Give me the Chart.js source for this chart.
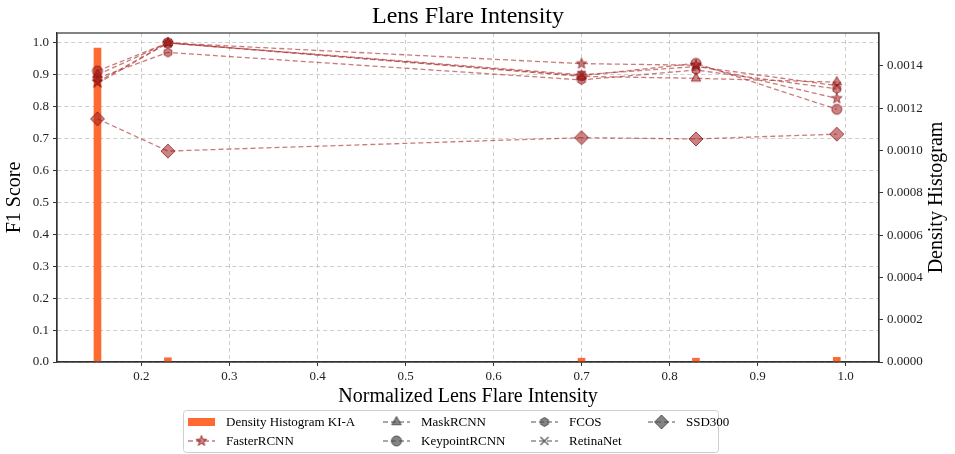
<!DOCTYPE html>
<html>
<head>
<meta charset="utf-8">
<script src="https://cdn.jsdelivr.net/npm/chart.js@4/dist/chart.umd.min.js"></script>
<style>
  html, body { margin: 0; padding: 0; background: #fff; }
  #wrap { width: 955px; height: 454px; }
</style>
</head>
<body>
<div id="wrap"><canvas id="chart" width="955" height="454"></canvas></div>
<script>
// data
const xVals = [0.15, 0.23, 0.70, 0.83, 0.99];
const histDensity = [0.001485, 0.00002, 0.000018, 0.000018, 0.000022];
const fasterRCNN = [0.878, 1.0, 0.935, 0.930, 0.826];
const maskRCNN = [0.900, 1.0, 0.895, 0.889, 0.877];
const keypointRCNN = [0.912, 1.0, 0.897, 0.936, 0.792];
const fcos = [0.890, 0.970, 0.884, 0.915, 0.856];
const retinaNet = [0.873, 1.0, 0.900, 0.926, 0.866];
const ssd300 = [0.762, 0.661, 0.703, 0.699, 0.714];
const xTicks = [0.2, 0.3, 0.4, 0.5, 0.6, 0.7, 0.8, 0.9, 1.0];

const FONT = "'Liberation Serif', 'DejaVu Serif', serif";
const lineColor = "rgba(175, 50, 50, 0.65)";
const redFill = "rgba(160, 30, 30, 0.55)";
const redEdge = "rgba(140, 20, 20, 0.75)";
const grayFill = "rgba(80, 80, 80, 0.7)";
const grayEdge = "rgba(60, 60, 60, 0.8)";
const barColor = "#ff6a33";

function markerImg(shape, size, fill, edge) {
    const c = document.createElement("canvas");
    c.width = c.height = 18;
    const g = c.getContext("2d");
    g.translate(9, 9);
    g.fillStyle = fill;
    g.strokeStyle = edge;
    g.lineWidth = 1;
    g.beginPath();
    if (shape === "circle") {
        g.arc(0, 0, size, 0, Math.PI * 2);
    } else if (shape === "x") {
        g.moveTo(-size, -size); g.lineTo(size, size);
        g.moveTo(size, -size); g.lineTo(-size, size);
        g.lineWidth = 1.4;
        g.stroke();
        return c;
    } else {
        let pts = [];
        if (shape === "star") {
            for (let i = 0; i < 10; i++) {
                const r = i % 2 ? size * 0.42 : size;
                const a = -Math.PI / 2 + i * Math.PI / 5;
                pts.push([r * Math.cos(a), r * Math.sin(a)]);
            }
        } else {
            const n = { triangle: 3, hexagon: 6, diamond: 4 }[shape];
            for (let i = 0; i < n; i++) {
                const a = -Math.PI / 2 + i * 2 * Math.PI / n;
                pts.push([size * Math.cos(a), size * Math.sin(a)]);
            }
        }
        pts.forEach((p, i) => i ? g.lineTo(p[0], p[1]) : g.moveTo(p[0], p[1]));
        g.closePath();
    }
    g.fill();
    g.stroke();
    return c;
}

const seriesDefs = [
    { label: "FasterRCNN", data: fasterRCNN, shape: "star", size: 5.5 },
    { label: "MaskRCNN", data: maskRCNN, shape: "triangle", size: 5.5 },
    { label: "KeypointRCNN", data: keypointRCNN, shape: "circle", size: 5 },
    { label: "FCOS", data: fcos, shape: "hexagon", size: 4.5 },
    { label: "RetinaNet", data: retinaNet, shape: "x", size: 4 },
    { label: "SSD300", data: ssd300, shape: "diamond", size: 7 }
];

const lineSets = seriesDefs.map(s => ({
    type: "line",
    label: s.label,
    data: xVals.map((x, i) => ({ x: x, y: s.data[i] })),
    yAxisID: "y",
    borderColor: lineColor,
    borderWidth: 1.3,
    borderDash: [5, 3],
    pointStyle: markerImg(s.shape, s.size, redFill, redEdge),
    pointRadius: 5,
    fill: false,
    tension: 0,
    order: 1
}));

// legend handles: first column style per reference
const legendItems = [
    { label: "Density Histogram KI-A", kind: "bar", col: 0, row: 0 },
    { label: "FasterRCNN", kind: "star", size: 5.5, red: true, col: 0, row: 1 },
    { label: "MaskRCNN", kind: "triangle", size: 5.5, col: 1, row: 0 },
    { label: "KeypointRCNN", kind: "circle", size: 5, col: 1, row: 1 },
    { label: "FCOS", kind: "hexagon", size: 4.5, col: 2, row: 0 },
    { label: "RetinaNet", kind: "x", size: 4, col: 2, row: 1 },
    { label: "SSD300", kind: "diamond", size: 7, col: 3, row: 0 }
];
const legendColX = [188, 383, 531, 648];

const decor = {
    id: "decor",
    afterDraw(chart) {
        const { ctx, chartArea: a } = chart;
        ctx.save();
        // frame
        ctx.strokeStyle = "#333";
        ctx.lineWidth = 1.2;
        ctx.strokeRect(a.left, a.top, a.right - a.left, a.bottom - a.top);

        ctx.fillStyle = "#000";
        ctx.textAlign = "center";
        ctx.textBaseline = "middle";
        ctx.font = "24px " + FONT;
        ctx.fillText("Lens Flare Intensity", (a.left + a.right) / 2, 17);
        ctx.font = "20px " + FONT;
        ctx.fillText("Normalized Lens Flare Intensity", (a.left + a.right) / 2, 397);

        const midY = (a.top + a.bottom) / 2;
        ctx.save();
        ctx.translate(15, midY);
        ctx.rotate(-Math.PI / 2);
        ctx.fillText("F1 Score", 0, 0);
        ctx.restore();
        ctx.save();
        ctx.translate(937, midY);
        ctx.rotate(-Math.PI / 2);
        ctx.fillText("Density Histogram", 0, 0);
        ctx.restore();

        // legend
        const bx = 183, by = 410, bw = 535, bh = 42;
        ctx.beginPath();
        ctx.roundRect(bx + 0.5, by + 0.5, bw, bh, 3);
        ctx.fillStyle = "rgba(255,255,255,0.85)";
        ctx.fill();
        ctx.strokeStyle = "#cfcfcf";
        ctx.lineWidth = 1;
        ctx.stroke();

        ctx.font = "13px " + FONT;
        ctx.textAlign = "left";
        legendItems.forEach(it => {
            const x0 = legendColX[it.col];
            const y = 422 + it.row * 19;
            if (it.kind === "bar") {
                ctx.fillStyle = barColor;
                ctx.fillRect(x0, y - 4, 27, 8);
            } else {
                ctx.save();
                ctx.strokeStyle = it.red ? lineColor : "rgba(110,110,110,0.8)";
                ctx.lineWidth = 1.3;
                ctx.setLineDash([5, 3]);
                ctx.beginPath();
                ctx.moveTo(x0, y);
                ctx.lineTo(x0 + 27, y);
                ctx.stroke();
                ctx.restore();
                const img = it.red ? markerImg(it.kind, it.size, redFill, redEdge)
                                   : markerImg(it.kind, it.size, grayFill, grayEdge);
                ctx.drawImage(img, x0 + 13.5 - 9, y - 9);
            }
            ctx.fillStyle = "#000";
            ctx.fillText(it.label, x0 + 38, y + 1);
        });
        ctx.restore();
    }
};

const gridStyle = {
    offset: false,
    color: "rgba(185,185,185,0.9)",
    lineWidth: 0.8,
    tickColor: "#333",
    tickBorderDash: [],
    tickLength: 4,
    tickWidth: 1
};
const borderStyle = { display: true, color: "#333", width: 1.2, dash: [4, 3] };

new Chart(document.getElementById("chart"), {
    type: "bar",
    data: {
        datasets: [
            {
                type: "bar",
                label: "Density Histogram KI-A",
                data: xVals.map((x, i) => ({ x: x, y: histDensity[i] })),
                yAxisID: "y2",
                backgroundColor: barColor,
                barThickness: 7,
                order: 10
            },
            ...lineSets
        ]
    },
    options: {
        responsive: false,
        animation: false,
        layout: { padding: { top: 33, left: 0, right: 0, bottom: 0 } },
        plugins: {
            legend: { display: false },
            title: { display: false },
            tooltip: { enabled: false }
        },
        scales: {
            x: {
                type: "linear",
                min: 0.104,
                max: 1.038,
                offset: false,
                afterFit: s => { s.height = 92; },
                afterBuildTicks: s => { s.ticks = xTicks.map(v => ({ value: v })); },
                grid: gridStyle,
                border: borderStyle,
                ticks: {
                    color: "#222",
                    font: { family: FONT, size: 13 },
                    padding: 3,
                    maxRotation: 0,
                    callback: v => v.toFixed(1)
                }
            },
            y: {
                position: "left",
                min: 0,
                max: 1.031,
                afterFit: s => { s.width = 57; },
                grid: gridStyle,
                border: borderStyle,
                ticks: {
                    stepSize: 0.1,
                    includeBounds: false,
                    color: "#222",
                    font: { family: FONT, size: 13 },
                    padding: 4,
                    callback: v => v.toFixed(1)
                }
            },
            y2: {
                position: "right",
                min: 0,
                max: 0.001556,
                afterFit: s => { s.width = 76; },
                grid: { drawOnChartArea: false, tickColor: "#333", tickLength: 4 },
                border: { display: true, color: "#333", width: 1.2 },
                ticks: {
                    stepSize: 0.0002,
                    includeBounds: false,
                    color: "#222",
                    font: { family: FONT, size: 13 },
                    padding: 4,
                    callback: v => v.toFixed(4)
                }
            }
        }
    },
    plugins: [decor]
});
</script>
</body>
</html>
